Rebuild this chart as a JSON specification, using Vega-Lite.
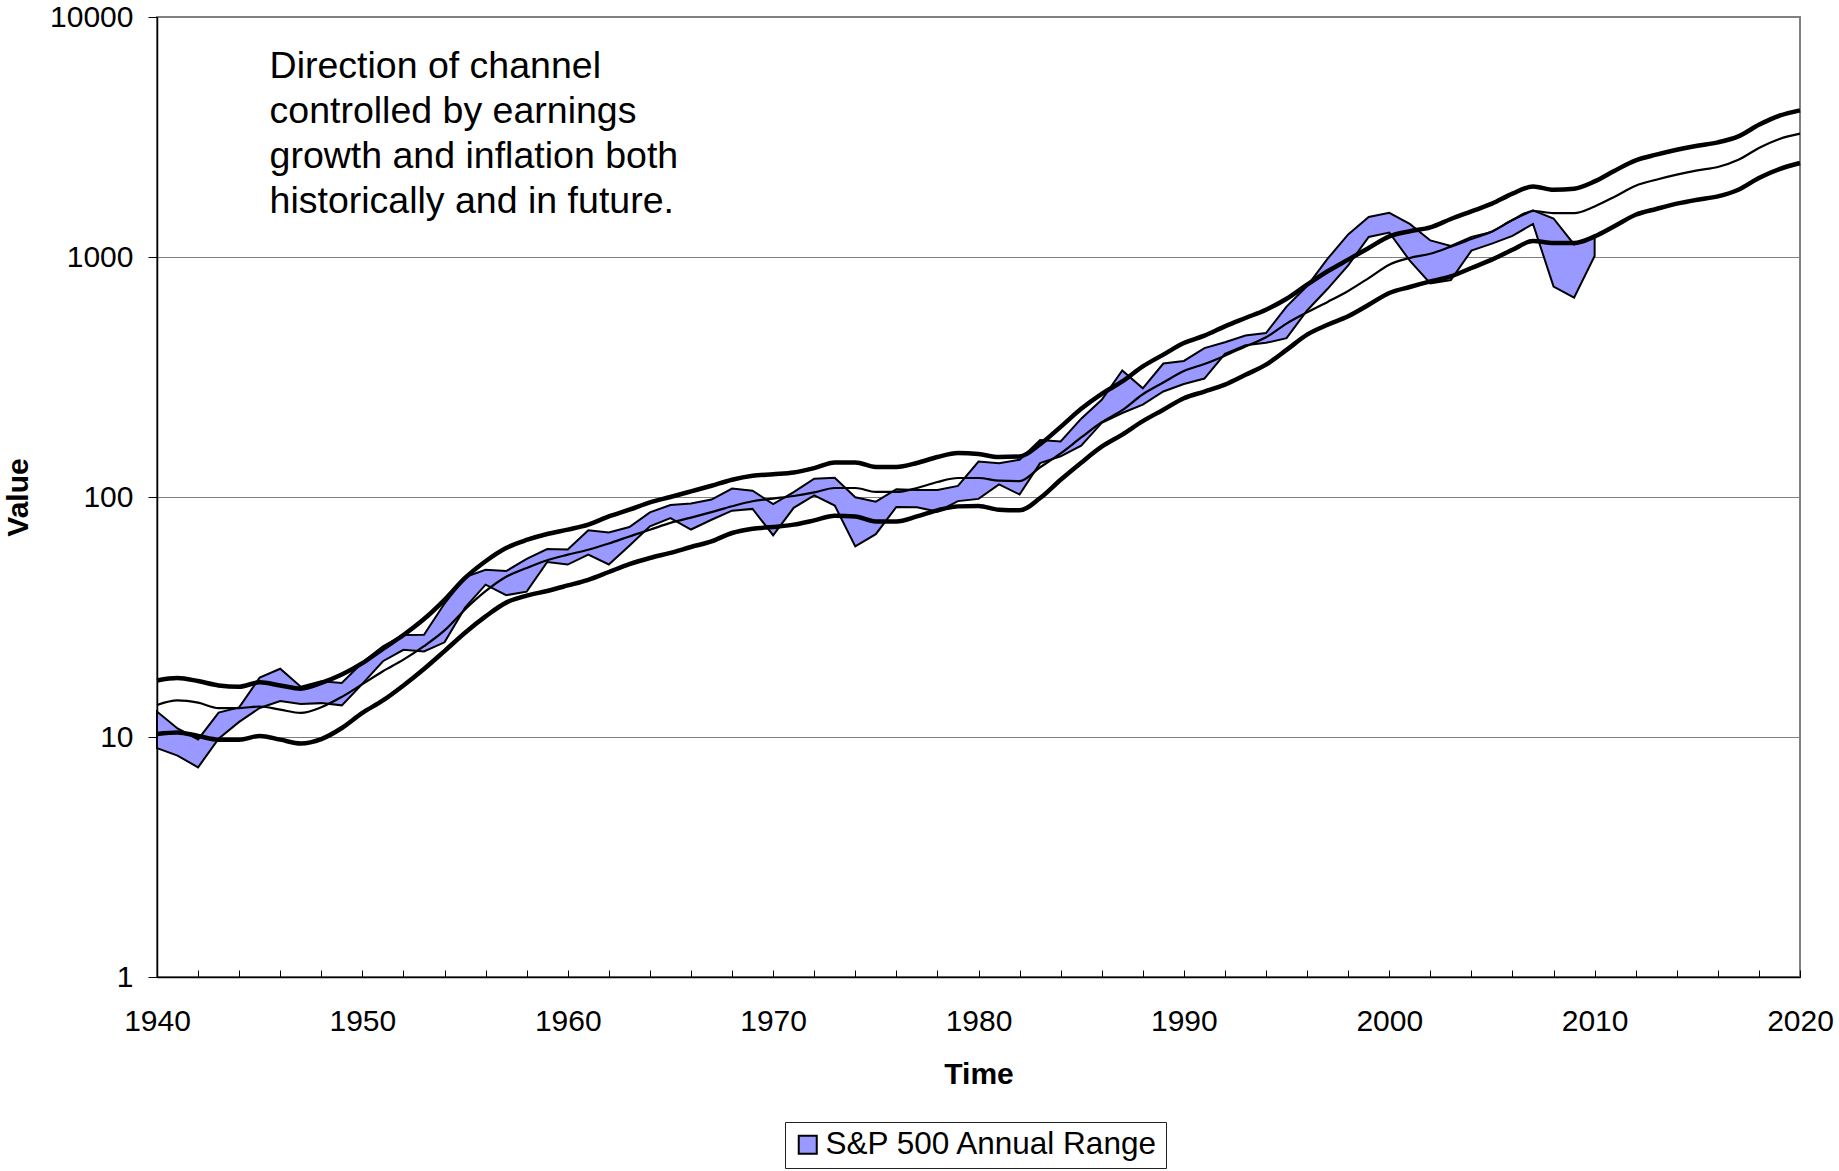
{
  "$schema": "https://vega.github.io/schema/vega-lite/v6.json",
  "width": 1643,
  "height": 960,
  "autosize": {"type": "none"},
  "padding": {"left": 157, "top": 17, "right": 39, "bottom": 194},
  "background": "white",
  "config": {
    "font": "Liberation Sans",
    "view": {"stroke": "#808080", "strokeWidth": 2},
    "axis": {"labelFont": "Liberation Sans", "titleFont": "Liberation Sans", "labelColor": "black", "titleColor": "black", "domainColor": "black", "tickColor": "black"}
  },
  "datasets": {
    "band": [
      {"year": 1940, "low": 8.99, "high": 12.77},
      {"year": 1941, "low": 8.37, "high": 10.86},
      {"year": 1942, "low": 7.47, "high": 9.77},
      {"year": 1943, "low": 9.84, "high": 12.64},
      {"year": 1944, "low": 11.56, "high": 13.29},
      {"year": 1945, "low": 13.21, "high": 17.68},
      {"year": 1946, "low": 14.12, "high": 19.25},
      {"year": 1947, "low": 13.71, "high": 16.2},
      {"year": 1948, "low": 13.84, "high": 17.06},
      {"year": 1949, "low": 13.55, "high": 16.79},
      {"year": 1950, "low": 16.65, "high": 20.43},
      {"year": 1951, "low": 20.69, "high": 23.85},
      {"year": 1952, "low": 23.09, "high": 26.59},
      {"year": 1953, "low": 22.71, "high": 26.66},
      {"year": 1954, "low": 24.8, "high": 35.98},
      {"year": 1955, "low": 34.58, "high": 46.41},
      {"year": 1956, "low": 43.11, "high": 49.74},
      {"year": 1957, "low": 38.98, "high": 49.13},
      {"year": 1958, "low": 40.33, "high": 55.21},
      {"year": 1959, "low": 53.58, "high": 60.71},
      {"year": 1960, "low": 52.3, "high": 60.39},
      {"year": 1961, "low": 57.57, "high": 72.64},
      {"year": 1962, "low": 52.32, "high": 71.13},
      {"year": 1963, "low": 62.69, "high": 75.02},
      {"year": 1964, "low": 75.43, "high": 86.28},
      {"year": 1965, "low": 81.6, "high": 92.63},
      {"year": 1966, "low": 73.2, "high": 94.06},
      {"year": 1967, "low": 80.38, "high": 97.59},
      {"year": 1968, "low": 87.72, "high": 108.37},
      {"year": 1969, "low": 89.2, "high": 106.16},
      {"year": 1970, "low": 69.29, "high": 93.46},
      {"year": 1971, "low": 90.16, "high": 104.77},
      {"year": 1972, "low": 101.67, "high": 119.12},
      {"year": 1973, "low": 92.16, "high": 120.24},
      {"year": 1974, "low": 62.28, "high": 99.8},
      {"year": 1975, "low": 70.04, "high": 95.61},
      {"year": 1976, "low": 90.9, "high": 107.83},
      {"year": 1977, "low": 90.71, "high": 107.0},
      {"year": 1978, "low": 86.9, "high": 106.99},
      {"year": 1979, "low": 96.13, "high": 111.27},
      {"year": 1980, "low": 98.22, "high": 140.52},
      {"year": 1981, "low": 112.77, "high": 138.12},
      {"year": 1982, "low": 102.42, "high": 143.02},
      {"year": 1983, "low": 138.34, "high": 172.65},
      {"year": 1984, "low": 147.82, "high": 170.41},
      {"year": 1985, "low": 163.68, "high": 212.02},
      {"year": 1986, "low": 203.49, "high": 254.0},
      {"year": 1987, "low": 223.92, "high": 336.77},
      {"year": 1988, "low": 242.63, "high": 283.66},
      {"year": 1989, "low": 275.31, "high": 359.8},
      {"year": 1990, "low": 295.46, "high": 368.95},
      {"year": 1991, "low": 311.49, "high": 417.09},
      {"year": 1992, "low": 394.5, "high": 441.28},
      {"year": 1993, "low": 429.05, "high": 470.94},
      {"year": 1994, "low": 438.92, "high": 482.0},
      {"year": 1995, "low": 459.11, "high": 621.69},
      {"year": 1996, "low": 598.48, "high": 757.03},
      {"year": 1997, "low": 737.01, "high": 983.79},
      {"year": 1998, "low": 923.32, "high": 1241.81},
      {"year": 1999, "low": 1212.19, "high": 1469.25},
      {"year": 2000, "low": 1264.74, "high": 1527.46},
      {"year": 2001, "low": 965.8, "high": 1373.73},
      {"year": 2002, "low": 776.76, "high": 1172.51},
      {"year": 2003, "low": 800.73, "high": 1111.92},
      {"year": 2004, "low": 1063.23, "high": 1213.55},
      {"year": 2005, "low": 1137.5, "high": 1272.74},
      {"year": 2006, "low": 1223.69, "high": 1427.09},
      {"year": 2007, "low": 1374.12, "high": 1565.15},
      {"year": 2008, "low": 752.44, "high": 1447.16},
      {"year": 2009, "low": 676.53, "high": 1127.78},
      {"year": 2010, "low": 1010.0, "high": 1210.0}
    ],
    "channel": [
      {"year": 1940, "upper": 17.2, "middle": 13.6, "lower": 10.3},
      {"year": 1941, "upper": 17.6, "middle": 14.2, "lower": 10.45},
      {"year": 1942, "upper": 17.1, "middle": 13.9, "lower": 10.1},
      {"year": 1943, "upper": 16.4, "middle": 13.2, "lower": 9.75},
      {"year": 1944, "upper": 16.2, "middle": 13.2, "lower": 9.75},
      {"year": 1945, "upper": 16.9, "middle": 13.4, "lower": 10.1},
      {"year": 1946, "upper": 16.4, "middle": 13.0, "lower": 9.75},
      {"year": 1947, "upper": 15.9, "middle": 12.6, "lower": 9.4},
      {"year": 1948, "upper": 16.8, "middle": 13.3, "lower": 9.8},
      {"year": 1949, "upper": 18.2, "middle": 14.7, "lower": 10.9},
      {"year": 1950, "upper": 20.3, "middle": 16.6, "lower": 12.6},
      {"year": 1951, "upper": 23.3, "middle": 18.8, "lower": 14.2},
      {"year": 1952, "upper": 26.6, "middle": 21.0, "lower": 16.4},
      {"year": 1953, "upper": 31.0, "middle": 23.9, "lower": 19.2},
      {"year": 1954, "upper": 37.3, "middle": 27.8, "lower": 22.8},
      {"year": 1955, "upper": 46.0, "middle": 34.0, "lower": 27.2},
      {"year": 1956, "upper": 54.0, "middle": 40.5, "lower": 31.8},
      {"year": 1957, "upper": 61.3, "middle": 46.5, "lower": 36.3},
      {"year": 1958, "upper": 66.2, "middle": 50.6, "lower": 38.8},
      {"year": 1959, "upper": 70.1, "middle": 54.5, "lower": 40.6},
      {"year": 1960, "upper": 73.1, "middle": 57.5, "lower": 42.8},
      {"year": 1961, "upper": 76.7, "middle": 60.3, "lower": 45.2},
      {"year": 1962, "upper": 83.0, "middle": 64.0, "lower": 48.7},
      {"year": 1963, "upper": 88.5, "middle": 68.5, "lower": 52.5},
      {"year": 1964, "upper": 95.0, "middle": 73.0, "lower": 55.7},
      {"year": 1965, "upper": 100.0, "middle": 78.0, "lower": 58.5},
      {"year": 1966, "upper": 105.5, "middle": 82.0, "lower": 61.9},
      {"year": 1967, "upper": 111.4, "middle": 86.5, "lower": 65.3},
      {"year": 1968, "upper": 118.0, "middle": 91.5, "lower": 70.8},
      {"year": 1969, "upper": 122.6, "middle": 96.0, "lower": 73.8},
      {"year": 1970, "upper": 124.5, "middle": 98.5, "lower": 75.0},
      {"year": 1971, "upper": 126.6, "middle": 101.0, "lower": 76.7},
      {"year": 1972, "upper": 132.0, "middle": 104.5, "lower": 79.9},
      {"year": 1973, "upper": 139.4, "middle": 109.0, "lower": 83.6},
      {"year": 1974, "upper": 139.4, "middle": 109.0, "lower": 83.0},
      {"year": 1975, "upper": 133.4, "middle": 105.0, "lower": 79.1},
      {"year": 1976, "upper": 133.4, "middle": 105.0, "lower": 79.1},
      {"year": 1977, "upper": 138.6, "middle": 109.0, "lower": 83.0},
      {"year": 1978, "upper": 146.8, "middle": 115.5, "lower": 88.0},
      {"year": 1979, "upper": 152.5, "middle": 120.0, "lower": 91.4},
      {"year": 1980, "upper": 151.0, "middle": 120.0, "lower": 91.8},
      {"year": 1981, "upper": 146.8, "middle": 117.0, "lower": 88.5},
      {"year": 1982, "upper": 147.5, "middle": 116.5, "lower": 88.0},
      {"year": 1983, "upper": 166.0, "middle": 133.0, "lower": 99.0},
      {"year": 1984, "upper": 196.0, "middle": 152.0, "lower": 118.0},
      {"year": 1985, "upper": 233.0, "middle": 177.0, "lower": 139.0},
      {"year": 1986, "upper": 269.0, "middle": 205.0, "lower": 162.0},
      {"year": 1987, "upper": 303.0, "middle": 230.0, "lower": 182.0},
      {"year": 1988, "upper": 350.0, "middle": 268.0, "lower": 207.0},
      {"year": 1989, "upper": 392.0, "middle": 300.0, "lower": 231.0},
      {"year": 1990, "upper": 438.0, "middle": 335.0, "lower": 258.0},
      {"year": 1991, "upper": 470.0, "middle": 358.0, "lower": 275.0},
      {"year": 1992, "upper": 514.0, "middle": 388.0, "lower": 294.0},
      {"year": 1993, "upper": 557.0, "middle": 424.0, "lower": 323.0},
      {"year": 1994, "upper": 603.0, "middle": 463.0, "lower": 356.0},
      {"year": 1995, "upper": 670.0, "middle": 528.0, "lower": 410.0},
      {"year": 1996, "upper": 767.0, "middle": 588.0, "lower": 475.0},
      {"year": 1997, "upper": 872.0, "middle": 650.0, "lower": 522.0},
      {"year": 1998, "upper": 975.0, "middle": 722.0, "lower": 566.0},
      {"year": 1999, "upper": 1090.0, "middle": 817.0, "lower": 632.0},
      {"year": 2000, "upper": 1218.0, "middle": 929.0, "lower": 708.0},
      {"year": 2001, "upper": 1280.0, "middle": 991.0, "lower": 750.0},
      {"year": 2002, "upper": 1328.0, "middle": 1032.0, "lower": 791.0},
      {"year": 2003, "upper": 1440.0, "middle": 1105.0, "lower": 830.0},
      {"year": 2004, "upper": 1549.0, "middle": 1188.0, "lower": 900.0},
      {"year": 2005, "upper": 1668.0, "middle": 1278.0, "lower": 975.0},
      {"year": 2006, "upper": 1836.0, "middle": 1425.0, "lower": 1072.0},
      {"year": 2007, "upper": 1969.0, "middle": 1555.0, "lower": 1165.0},
      {"year": 2008, "upper": 1906.0, "middle": 1524.0, "lower": 1143.0},
      {"year": 2009, "upper": 1926.0, "middle": 1524.0, "lower": 1143.0},
      {"year": 2010, "upper": 2065.0, "middle": 1625.0, "lower": 1218.0},
      {"year": 2011, "upper": 2295.0, "middle": 1788.0, "lower": 1350.0},
      {"year": 2012, "upper": 2527.0, "middle": 1982.0, "lower": 1500.0},
      {"year": 2013, "upper": 2669.0, "middle": 2099.0, "lower": 1585.0},
      {"year": 2014, "upper": 2799.0, "middle": 2203.0, "lower": 1668.0},
      {"year": 2015, "upper": 2910.0, "middle": 2295.0, "lower": 1733.0},
      {"year": 2016, "upper": 3003.0, "middle": 2371.0, "lower": 1788.0},
      {"year": 2017, "upper": 3181.0, "middle": 2542.0, "lower": 1906.0},
      {"year": 2018, "upper": 3556.0, "middle": 2845.0, "lower": 2135.0},
      {"year": 2019, "upper": 3880.0, "middle": 3103.0, "lower": 2326.0},
      {"year": 2020, "upper": 4083.0, "middle": 3265.0, "lower": 2465.0}
    ],
    "note": [
      {"label": ["Direction of channel", "controlled by earnings", "growth and inflation both", "historically and in future."]}
    ]
  },
  "layer": [
    {
      "data": {"name": "band"},
      "mark": {"type": "area", "stroke": "black", "strokeWidth": 2, "strokeJoin": "miter", "opacity": 1},
      "encoding": {
        "x": {
          "field": "year", "type": "quantitative", "title": "Time",
          "scale": {"domain": [1940, 2020], "nice": false, "zero": false},
          "axis": {
            "values": [1940,1941,1942,1943,1944,1945,1946,1947,1948,1949,1950,1951,1952,1953,1954,1955,1956,1957,1958,1959,1960,1961,1962,1963,1964,1965,1966,1967,1968,1969,1970,1971,1972,1973,1974,1975,1976,1977,1978,1979,1980,1981,1982,1983,1984,1985,1986,1987,1988,1989,1990,1991,1992,1993,1994,1995,1996,1997,1998,1999,2000,2001,2002,2003,2004,2005,2006,2007,2008,2009,2010,2011,2012,2013,2014,2015,2016,2017,2018,2019,2020],
            "format": "d",
            "labelExpr": "datum.value % 10 === 0 ? datum.label : ''",
            "labelFontSize": 30,
            "labelFlush": false,
            "labelOverlap": false,
            "labelBound": false,
            "labelPadding": 36.5,
            "tickSize": -7,
            "tickWidth": 1,
            "domainWidth": 1.5,
            "grid": false,
            "titleFontSize": 30,
            "titleFontWeight": "bold",
            "titleBaseline": "middle",
            "titleY": 97
          }
        },
        "y": {
          "field": "low", "type": "quantitative", "title": "Value",
          "scale": {"type": "log", "domain": [1, 10000], "nice": false},
          "axis": {
            "values": [1, 10, 100, 1000, 10000],
            "format": "d",
            "labelFontSize": 30,
            "labelPadding": 15,
            "labelOverlap": false,
            "tickSize": 9,
            "tickWidth": 1,
            "domainWidth": 1.5,
            "grid": true,
            "gridColor": "#808080",
            "gridWidth": 1,
            "titleFontSize": 30,
            "titleFontWeight": "bold",
            "titleAngle": 270,
            "titleBaseline": "middle",
            "titleAlign": "center",
            "titleX": -139,
            "titleY": 480
          }
        },
        "y2": {"field": "high"},
        "fill": {
          "datum": "S&P 500 Annual Range", "type": "nominal",
          "scale": {"range": ["#9999ff"]},
          "legend": {
            "title": null,
            "orient": "none",
            "legendX": 628,
            "legendY": 1105,
            "labelFontSize": 31.5,
            "labelFont": "Liberation Sans",
            "labelColor": "black",
            "labelLimit": 0,
            "symbolType": "square",
            "symbolSize": 324,
            "symbolStrokeColor": "black",
            "symbolStrokeWidth": 2,
            "strokeColor": "#222222",
            "padding": 7,
            "labelOffset": 2
          }
        }
      }
    },
    {
      "data": {"name": "channel"},
      "mark": {"type": "line", "color": "black", "strokeWidth": 4.5, "interpolate": "monotone"},
      "encoding": {
        "x": {"field": "year", "type": "quantitative", "title": "Time"},
        "y": {"field": "upper", "type": "quantitative", "title": "Value"}
      }
    },
    {
      "data": {"name": "channel"},
      "mark": {"type": "line", "color": "black", "strokeWidth": 2.2, "interpolate": "monotone"},
      "encoding": {
        "x": {"field": "year", "type": "quantitative", "title": "Time"},
        "y": {"field": "middle", "type": "quantitative", "title": "Value"}
      }
    },
    {
      "data": {"name": "channel"},
      "mark": {"type": "line", "color": "black", "strokeWidth": 4.5, "interpolate": "monotone"},
      "encoding": {
        "x": {"field": "year", "type": "quantitative", "title": "Time"},
        "y": {"field": "lower", "type": "quantitative", "title": "Value"}
      }
    },
    {
      "data": {"name": "note"},
      "mark": {"type": "text", "align": "left", "baseline": "alphabetic", "fontSize": 37.5, "lineHeight": 45, "font": "Liberation Sans", "color": "black"},
      "encoding": {
        "x": {"datum": 1945.48, "type": "quantitative"},
        "y": {"datum": 5569, "type": "quantitative"},
        "text": {"field": "label"}
      }
    }
  ]
}
